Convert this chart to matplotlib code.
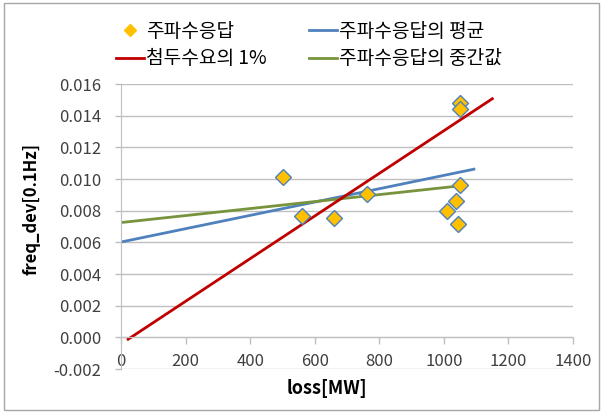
import matplotlib
matplotlib.use("Agg")
import matplotlib.pyplot as plt
from matplotlib.patches import Rectangle
from matplotlib.lines import Line2D

plt.rcParams['font.family'] = ['Noto Sans CJK KR', 'DejaVu Sans']

# 주파수응답 산점도 데이터
loss = [502, 560, 660, 762, 1050, 1050, 1050, 1037, 1011, 1044]
freq_dev = [0.0101, 0.00765, 0.00752, 0.00903, 0.01482, 0.01442, 0.00962, 0.00858, 0.00801, 0.00718]

# 선 (시작점, 끝점)
peak_x = [22, 1150]
peak_y = [-0.00012, 0.01507]
mean_x = [0, 1093]
mean_y = [0.00602, 0.01062]
median_x = [0, 1065]
median_y = [0.00725, 0.00960]

labels = ['주파수응답', '첨두수요의 1%', '주파수응답의 평균', '주파수응답의 중간값']

fig = plt.figure(figsize=(6.03, 4.13), dpi=100)
ax = fig.add_axes([0.2007, 0.1065, 0.7496, 0.6901])

grid_c = '#BFBFBF'
ax.set_xlim(0, 1400)
ax.set_ylim(-0.002, 0.016)
ax.set_xticks(range(0, 1401, 200))
ax.set_yticks([i * 0.002 for i in range(-1, 9)])
ax.set_yticklabels(['%.3f' % (i * 0.002) for i in range(-1, 9)])
ax.yaxis.grid(True, color=grid_c, linewidth=1)
ax.set_axisbelow(True)

for s in ['top', 'right']:
    ax.spines[s].set_visible(False)
ax.spines['left'].set_color(grid_c)
ax.spines['bottom'].set_position(('data', 0))
ax.spines['bottom'].set_color(grid_c)
ax.tick_params(axis='y', colors=grid_c, labelcolor='#404040', labelsize=12, length=4.5, width=1, pad=10)
ax.tick_params(axis='x', colors=grid_c, labelcolor='#404040', labelsize=12, length=5, width=1, pad=6)

ax.plot(mean_x, mean_y, color='#4F81BD', lw=2)
ax.plot(median_x, median_y, color='#77933C', lw=2)
ax.plot(peak_x, peak_y, color='#C00000', lw=2)
ax.plot(loss, freq_dev, 'D', ms=8, mfc='#FFC000', mec='#4F81BD', mew=1, linestyle='none')

ax.set_ylabel('freq_dev[0.1Hz]', fontsize=12, fontweight='bold', va='center', ha='center')
ax.yaxis.set_label_coords(-0.197, 0.561)
ax.set_xlabel('loss[MW]', fontsize=13, fontweight='bold', va='center', ha='center')
ax.xaxis.set_label_coords(0.456, -0.067)

handles = [
    Line2D([], [], marker='D', ms=6, mfc='#FFC000', mec='#FFC000', linestyle='none'),
    Line2D([], [], color='#C00000', lw=2),
    Line2D([], [], color='#4F81BD', lw=2),
    Line2D([], [], color='#77933C', lw=2),
]
fig.legend(handles, labels, ncol=2, loc='upper left', bbox_to_anchor=(0.176, 0.973),
           frameon=False, fontsize=13.8, handlelength=1.46, handletextpad=0.1,
           columnspacing=2.25, labelspacing=0.35, borderpad=0)

fig.add_artist(Rectangle((0.006, 0.007), 0.988, 0.985, transform=fig.transFigure,
                         fill=False, edgecolor='#A6A6A6', linewidth=1))

fig.savefig('out.png', dpi=100)
